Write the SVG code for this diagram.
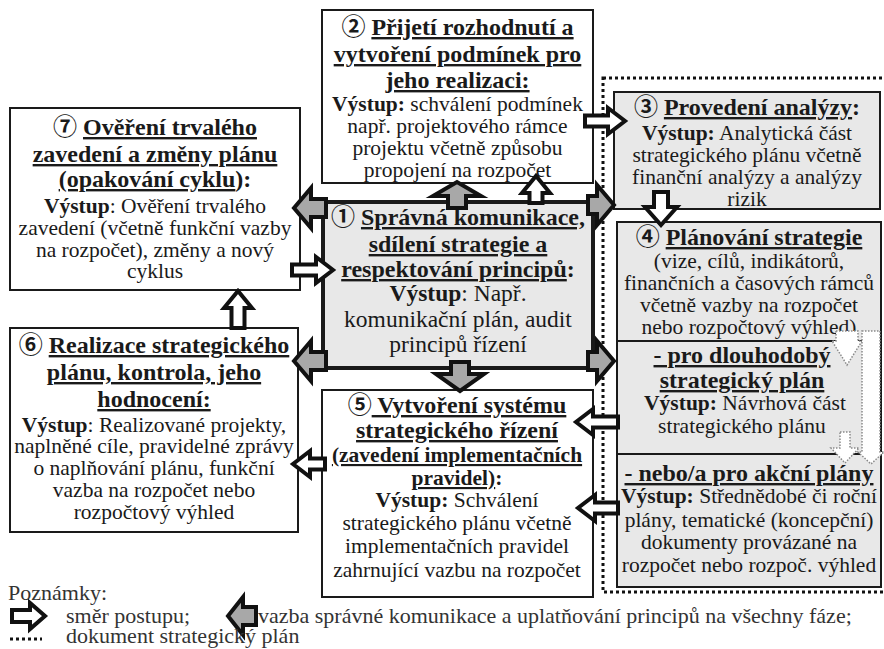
<svg xmlns="http://www.w3.org/2000/svg" width="884" height="649" viewBox="0 0 884 649">
  <style>
    text { font-family: "Liberation Serif", "Times New Roman", "DejaVu Serif", "Noto Sans CJK SC", serif; fill: #1a1a1a; }
    .c { text-anchor: middle; }
    .h { font-size: 24px; font-weight: bold; }
    .hs { font-size: 21.5px; font-weight: bold; }
    .b { font-size: 21.5px; }
    .bl { font-size: 23.5px; }
    .u { text-decoration: underline; }
    .k { font-weight: bold; }
    .box { fill: #ffffff; stroke: #1a1a1a; stroke-width: 2; }
    .grey { fill: #e8e8e8; }
    .main { stroke-width: 4; }
    .sep { stroke: #1a1a1a; stroke-width: 2; }
    .doc { fill: none; stroke: #111; stroke-width: 3; stroke-dasharray: 3 3; }
    .wa { fill: #ffffff; stroke: #111; stroke-width: 4; stroke-linejoin: miter; }
    .ga { fill: #a8a8a8; stroke: #111; stroke-width: 4; stroke-linejoin: miter; }
    .da { fill: #ffffff; stroke: #8a8a8a; stroke-width: 1.5; stroke-dasharray: 1.5 1.5; }
    .note { font-size: 22px; fill: #333; }
  </style>

  <rect width="884" height="649" fill="#ffffff"/>

  <!-- strategic plan document boundary -->
  <rect class="doc" x="603" y="78" width="300" height="514"/>

  <!-- 2: decision and conditions -->
  <g id="node-2">
    <rect class="box" x="322" y="10" width="271" height="173"/>
    <text class="c h" x="457.5" y="35">② <tspan class="u">Přijetí rozhodnutí a</tspan></text>
    <text class="c h u" x="457.5" y="62">vytvoření podmínek pro</text>
    <text class="c h u" x="457.5" y="88">jeho realizaci:</text>
    <text class="c b" x="457.5" y="111"><tspan class="k">Výstup:</tspan> schválení podmínek</text>
    <text class="c b" x="457.5" y="133">např. projektového rámce</text>
    <text class="c b" x="457.5" y="155">projektu včetně způsobu</text>
    <text class="c b" x="457.5" y="177">propojení na rozpočet</text>
  </g>

  <!-- 7: verification and plan changes -->
  <g id="node-7">
    <rect class="box" x="10" y="108" width="290" height="182"/>
    <text class="c h" x="155" y="135">⑦ <tspan class="u">Ověření trvalého</tspan></text>
    <text class="c h u" x="155" y="162">zavedení a změny plánu</text>
    <text class="c h" x="155" y="187"><tspan class="u">(opakování cyklu</tspan>):</text>
    <text class="c b" x="155" y="213"><tspan class="k">Výstup</tspan>: Ověření trvalého</text>
    <text class="c b" x="155" y="235">zavedení (včetně funkční vazby</text>
    <text class="c b" x="155" y="257">na rozpočet), změny a nový</text>
    <text class="c b" x="155" y="278">cyklus</text>
  </g>

  <!-- 3: analysis -->
  <g id="node-3">
    <rect class="box grey" x="614" y="92" width="266" height="117"/>
    <text class="c h" x="747" y="115">③ <tspan class="u">Provedení analýzy</tspan>:</text>
    <text class="c b" x="747" y="140"><tspan class="k">Výstup:</tspan> Analytická část</text>
    <text class="c b" x="747" y="162">strategického plánu včetně</text>
    <text class="c b" x="747" y="184">finanční analýzy a analýzy</text>
    <text class="c b" x="747" y="206">rizik</text>
  </g>

  <!-- 4: strategy planning with its two outputs -->
  <g id="node-4">
    <rect class="box grey" x="617" y="222" width="264" height="365"/>
    <line class="sep" x1="617" y1="341" x2="881" y2="341"/>
    <line class="sep" x1="617" y1="454" x2="881" y2="454"/>
    <text class="c h" x="749" y="245">④ <tspan class="u">Plánování strategie</tspan></text>
    <text class="c b" x="749" y="268">(vize, cílů, indikátorů,</text>
    <text class="c b" x="749" y="290">finančních a časových rámců</text>
    <text class="c b" x="749" y="312">včetně vazby na rozpočet</text>
    <text class="c b" x="749" y="334">nebo rozpočtový výhled)</text>
    <text class="c h u" x="742" y="363">- pro dlouhodobý</text>
    <text class="c h u" x="742" y="388">strategický plán</text>
    <text class="c b" x="745" y="410"><tspan class="k">Výstup:</tspan> Návrhová část</text>
    <text class="c b" x="742" y="433">strategického plánu</text>
    <text class="c h u" x="749" y="481">- nebo/a pro akční plány</text>
    <text class="c b" x="749" y="503"><tspan class="k">Výstup:</tspan> Střednědobé či roční</text>
    <text class="c b" x="749" y="527">plány, tematické (koncepční)</text>
    <text class="c b" x="749" y="549">dokumenty provázané na</text>
    <text class="c b" x="749" y="572">rozpočet nebo rozpoč. výhled</text>
  </g>

  <!-- 1: communication and principles (central) -->
  <g id="node-1">
    <rect class="box grey main" x="323" y="202" width="270" height="166"/>
    <text class="c h" x="458" y="225">① <tspan class="u">Správná komunikace,</tspan></text>
    <text class="c h u" x="458" y="252">sdílení strategie a</text>
    <text class="c h" x="458" y="277"><tspan class="u">respektování principů</tspan>:</text>
    <text class="c bl" x="458" y="301"><tspan class="k">Výstup</tspan>: Např.</text>
    <text class="c bl" x="458" y="327">komunikační plán, audit</text>
    <text class="c bl" x="458" y="352">principů řízení</text>
  </g>

  <!-- 6: implementation and evaluation -->
  <g id="node-6">
    <rect class="box" x="10" y="328" width="288" height="204"/>
    <text class="c h" x="154" y="353">⑥ <tspan class="u">Realizace strategického</tspan></text>
    <text class="c h u" x="154" y="380">plánu, kontrola, jeho</text>
    <text class="c h u" x="154" y="407">hodnocení:</text>
    <text class="c b" x="154" y="432"><tspan class="k">Výstup</tspan>: Realizované projekty,</text>
    <text class="c b" x="154" y="453">naplněné cíle, pravidelné zprávy</text>
    <text class="c b" x="154" y="475">o naplňování plánu, funkční</text>
    <text class="c b" x="154" y="497">vazba na rozpočet nebo</text>
    <text class="c b" x="154" y="519">rozpočtový výhled</text>
  </g>

  <!-- 5: management system -->
  <g id="node-5">
    <rect class="box" x="322" y="390" width="271" height="207"/>
    <text class="c h" x="457" y="413">⑤<tspan class="u"> Vytvoření systému</tspan></text>
    <text class="c h u" x="457" y="438">strategického řízení</text>
    <text class="c hs u" x="457" y="462">(zavedení implementačních</text>
    <text class="c hs" x="457" y="485"><tspan class="u">pravidel)</tspan>:</text>
    <text class="c b" x="457" y="507"><tspan class="k">Výstup:</tspan> Schválení</text>
    <text class="c b" x="457" y="530">strategického plánu včetně</text>
    <text class="c b" x="457" y="553">implementačních pravidel</text>
    <text class="c b" x="457" y="577">zahrnující vazbu na rozpočet</text>
  </g>

  <!-- connectors -->
  <g id="connectors">
    <!-- process direction (white) -->
    <polygon class="wa" points="585,115.5 608,115.5 608,108 625,121 608,134 608,126.5 585,126.5"/>
    <polygon class="wa" points="654,192 668,192 668,207 677,207 661,225 645,207 654,207"/>
    <polygon class="wa" points="292,264.5 316,264.5 316,257 333,270 316,283 316,275.5 292,275.5"/>
    <polygon class="wa" points="529.5,203 529.5,193 522,193 536,176 550,193 542.5,193 542.5,203"/>
    <polygon class="wa" points="231.5,328 231.5,308 224,308 238,291 252,308 244.5,308 244.5,328"/>
    <polygon class="wa" points="618,416.5 593,416.5 593,409 576,422 593,435 593,427.5 618,427.5"/>
    <polygon class="wa" points="618,502.5 595,502.5 595,495 578,508 595,521 595,513.5 618,513.5"/>
    <polygon class="wa" points="325,458.5 310,458.5 310,451 293,464 310,477 310,469.5 325,469.5"/>
    <!-- communication links from node 1 (grey) -->
    <polygon class="ga" points="326,199 311,199 311,188 294,208 311,228 311,217 326,217"/>
    <polygon class="ga" points="326,352 311,352 311,341 294,361 311,381 311,370 326,370"/>
    <polygon class="ga" points="588,196 597,196 597,185 614,205 597,225 597,214 588,214"/>
    <polygon class="ga" points="588,352 597,352 597,341 614,361 597,381 597,370 588,370"/>
    <polygon class="ga" points="448,208 448,196 433,196 457,182 481,196 466,196 466,208"/>
    <polygon class="ga" points="451,362 451,374 436,374 460,391 484,374 469,374 469,362"/>
    <!-- outputs within the plan (dotted) -->
    <polygon class="da" points="836,331 858,331 858,341 862,341 847,365 832,341 836,341"/>
    <polygon class="da" points="862,331 880,331 880,452 884,452 871,464 858,452 862,452"/>
    <polygon class="da" points="840,432 850,432 850,448 859,448 845,463 831,448 840,448"/>
  </g>

  <!-- notes -->
  <g id="legend">
    <text class="note" x="8" y="600">Poznámky:</text>
    <polygon class="wa" points="12,610 30,610 30,603 45,616 30,629 30,622 12,622"/>
    <text class="note" x="66" y="623">směr postupu;</text>
    <polygon class="ga" points="256,607 243,607 243,597 228,616 243,635 243,625 256,625"/>
    <text class="note" x="258" y="623">vazba správné komunikace a uplatňování principů na všechny fáze;</text>
    <line class="doc" x1="10" y1="639" x2="42" y2="639"/>
    <text class="note" x="66" y="643">dokument strategický plán</text>
  </g>
</svg>
